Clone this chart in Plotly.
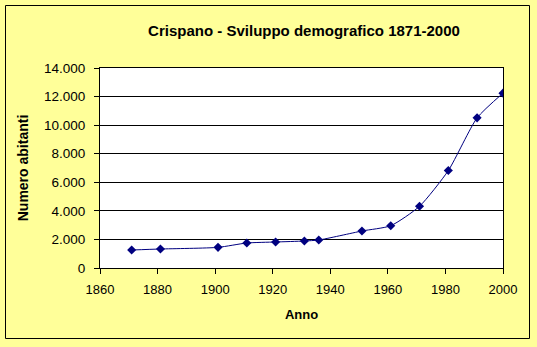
import plotly.graph_objects as go

years = [1871, 1881, 1901, 1911, 1921, 1931, 1936, 1951, 1961, 1971, 1981, 1991, 2000]
abitanti = [1260, 1330, 1445, 1750, 1820, 1890, 1960, 2590, 2960, 4320, 6820, 10510, 12240]
x_ticks = [1860, 1880, 1900, 1920, 1940, 1960, 1980, 2000]
y_ticks = [0, 2000, 4000, 6000, 8000, 10000, 12000, 14000]

W, H = 537, 347
ml, mr, mt, mb = 100, 34, 68, 79
pw, ph = W - ml - mr, H - mt - mb

def px(x):
    return (x - ml) / pw

def py(y):
    return (H - mb - y) / ph

font = "Liberation Sans, Arial, sans-serif"

fig = go.Figure()
fig.add_trace(go.Scatter(
    x=years, y=abitanti, mode="lines+markers",
    line=dict(color="#000080", width=1, shape="spline", smoothing=0.6),
    marker=dict(symbol="diamond", size=7, color="#000080"),
    showlegend=False,
))

fig.update_layout(
    width=W, height=H,
    margin=dict(l=ml, r=mr, t=mt, b=mb),
    paper_bgcolor="#FFFF99",
    plot_bgcolor="white",
    separators=",.",
    font=dict(family=font, size=13, color="black"),
    title=dict(text="<b>Crispano - Sviluppo demografico 1871-2000</b>",
               x=px(304), xref="paper", xanchor="center",
               y=1 - 31 / H, yanchor="middle",
               font=dict(size=15, family=font, color="black")),
    xaxis=dict(range=[1860, 2000], tickvals=x_ticks, tickformat="d",
               showgrid=False, zeroline=False,
               showline=True, linecolor="black", linewidth=1, mirror=True,
               ticks="outside", ticklen=5, tickcolor="black",
               ticklabelstandoff=4,
               title=dict(text="<b>Anno</b>", font=dict(size=13), standoff=14)),
    yaxis=dict(range=[0, 14000], tickvals=y_ticks, tickformat=",d",
               showgrid=True, gridcolor="black", gridwidth=1, zeroline=False,
               showline=True, linecolor="black", linewidth=1, mirror=True,
               ticks="outside", ticklen=5, tickcolor="black",
               ticklabelstandoff=6,
               tickfont=dict(size=13.5),
               title=dict(text="<b>Numero abitanti</b>", font=dict(size=14), standoff=12)),
    shapes=[dict(type="rect", xref="paper", yref="paper",
                 x0=px(5.5), x1=px(529.5), y0=py(338.5), y1=py(5.5),
                 line=dict(color="black", width=1), layer="below")],
)

fig.write_html("out.html")
